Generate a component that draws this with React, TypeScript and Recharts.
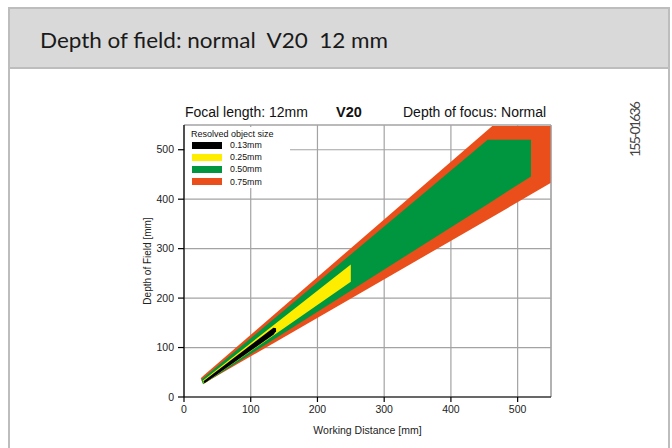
import { ComposedChart, Area, XAxis, YAxis, CartesianGrid, ReferenceLine, Label } from 'recharts'

// resolved object size per band, drawn widest first
const SIZES = ['0.13mm', '0.25mm', '0.50mm', '0.75mm']
const COLORS = ['#000000', '#ffed00', '#009640', '#e94e1b']

// band outlines: working distance [mm] with near / far limit of the depth of field [mm]
const X_013 = [29, 31, 134, 138]
const LO_013 = [31, 28, 126, 133]
const HI_013 = [31, 34, 140, 139]

const X_025 = [28, 30, 250]
const LO_025 = [33, 27, 233]
const HI_025 = [33, 35, 268]

const X_050 = [26, 28.5, 455, 520]
const LO_050 = [35, 26, 390, 446]
const HI_050 = [35, 38, 520, 520]

const X_075 = [25, 29, 462, 550]
const LO_075 = [38, 27, 364, 433]
const HI_075 = [38, 43, 548, 548]

const X_TICKS = [0, 100, 200, 300, 400, 500]
const Y_TICKS = [0, 100, 200, 300, 400, 500]

const ARIAL = '"Liberation Sans", Arial, sans-serif'
const GRID = '#a3a3a3'

function band(xs: number[], lo: number[], hi: number[]) {
  return xs.map((x, i) => ({ x, range: [lo[i], hi[i]] }))
}

const BANDS = [
  band(X_013, LO_013, HI_013),
  band(X_025, LO_025, HI_025),
  band(X_050, LO_050, HI_050),
  band(X_075, LO_075, HI_075),
]

function Frame() {
  return (
    <svg width={672} height={448} style={{ position: 'absolute', left: 0, top: 0 }}>
      <rect x={9} y={8} width={660} height={460} fill="#fff" stroke="#bdbdbd" strokeWidth={2} />
      <rect x={9} y={8} width={660} height={60} fill="#d9d9d9" stroke="#bdbdbd" strokeWidth={2} />
      <text
        x={40}
        y={48}
        fontFamily="Lato, sans-serif"
        fontSize={21}
        fill="#1a1a1a"
        textLength={348}
        lengthAdjust="spacingAndGlyphs"
        style={{ whiteSpace: 'pre' }}
      >
        {'Depth of field: normal  V20  12 mm'}
      </text>
      <text x={185} y={117} fontFamily={ARIAL} fontSize={14} fill="#111">Focal length: 12mm</text>
      <text x={336} y={117} fontFamily={ARIAL} fontSize={14.5} fontWeight="bold" fill="#111">V20</text>
      <text x={403} y={117} fontFamily={ARIAL} fontSize={14} fill="#111">Depth of focus: Normal</text>
      <text
        x={0}
        y={0}
        transform="translate(640 129) rotate(-90)"
        textAnchor="middle"
        fontFamily="Lato, sans-serif"
        fontSize={14}
        fill="#444"
        textLength={56}
      >
        155-01636
      </text>
    </svg>
  )
}

function SizeLegend() {
  return (
    <div
      style={{
        position: 'absolute',
        left: 185,
        top: 127,
        width: 105,
        height: 61,
        background: '#fff',
        fontFamily: ARIAL,
        color: '#111',
      }}
    >
      <div style={{ position: 'absolute', left: 6, top: 2, fontSize: 9, lineHeight: '10px' }}>Resolved object size</div>
      {SIZES.map((s, i) => (
        <div key={s} style={{ position: 'absolute', left: 7, top: 14 + i * 12.2, display: 'flex', alignItems: 'center', gap: 8 }}>
          <span style={{ width: 30, height: 7, background: COLORS[i], display: 'block' }} />
          <span style={{ fontSize: 8.8, lineHeight: '8px' }}>{s}</span>
        </div>
      ))}
    </div>
  )
}

export default function App() {
  return (
    <div style={{ position: 'fixed', left: 0, top: 0, width: 672, height: 448, overflow: 'hidden', background: '#fff' }}>
      <Frame />
      <div style={{ position: 'absolute', left: 0, top: 0 }}>
        <ComposedChart width={672} height={448} margin={{ top: 125, right: 121, bottom: 11, left: 140 }}>
          <CartesianGrid stroke={GRID} strokeWidth={1.2} />
          <XAxis
            type="number"
            dataKey="x"
            domain={[0, 550]}
            ticks={X_TICKS}
            allowDataOverflow
            height={40}
            stroke="#000"
            strokeWidth={1.2}
            tickSize={5}
            tickMargin={4}
            tick={{ fontSize: 10.5, fill: '#222', fontFamily: ARIAL }}
          >
            <Label
              value="Working Distance [mm]"
              position="insideBottom"
              offset={3}
              style={{ fontSize: 10.5, fill: '#222', fontFamily: ARIAL }}
            />
          </XAxis>
          <YAxis
            type="number"
            domain={[0, 550]}
            ticks={Y_TICKS}
            allowDataOverflow
            width={44}
            stroke="#000"
            strokeWidth={1.2}
            tickSize={6}
            tickMargin={4}
            tick={{ fontSize: 10.5, fill: '#222', fontFamily: ARIAL }}
          >
            <Label
              value="Depth of Field [mm]"
              angle={-90}
              position="insideLeft"
              offset={7}
              style={{ textAnchor: 'middle', fontSize: 10, fill: '#222', fontFamily: ARIAL }}
            />
          </YAxis>
          {[3, 2, 1, 0].map((i) => (
            <Area
              key={SIZES[i]}
              data={BANDS[i]}
              dataKey="range"
              type="linear"
              fill={COLORS[i]}
              fillOpacity={1}
              stroke="none"
              dot={false}
              activeDot={false}
              isAnimationActive={false}
            />
          ))}
          <ReferenceLine x={550} stroke={GRID} strokeWidth={1.2} />
          <ReferenceLine y={550} stroke={GRID} strokeWidth={1.2} />
        </ComposedChart>
      </div>
      <SizeLegend />
    </div>
  )
}
